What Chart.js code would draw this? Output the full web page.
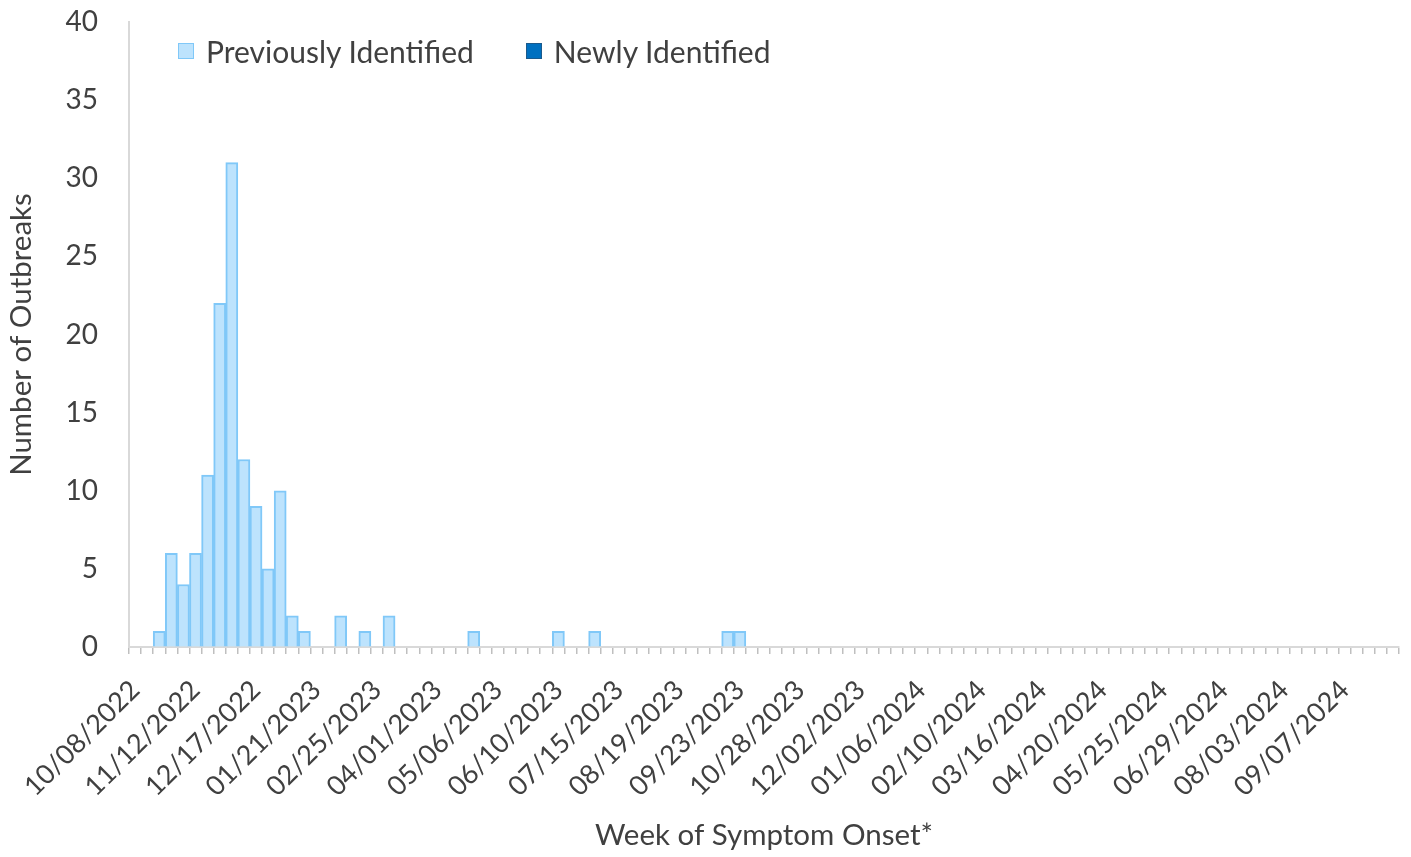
<!DOCTYPE html>
<html>
<head>
<meta charset="utf-8">
<script src="https://cdn.jsdelivr.net/npm/chart.js@4.4.0/dist/chart.umd.min.js"></script>
<style>
  html, body { margin: 0; padding: 0; background: #fff; }
  #wrap { position: relative; width: 1411px; height: 857px; }
  #legend { position: absolute; left: 178px; top: 33px; display: flex; font-family: Lato, sans-serif; font-size: 30px; color: #404040; }
  .item { display: flex; align-items: center; margin-right: 52px; }
  .box { width: 16px; height: 16px; margin-right: 12px; box-sizing: border-box; }
</style>
</head>
<body>
<div id="wrap">
  <canvas id="chart" width="1411" height="857"></canvas>
  <div id="legend">
    <div class="item"><span class="box" style="background:#BDE3FD;border:1.5px solid #80C8F8"></span>Previously Identified</div>
    <div class="item"><span class="box" style="background:#0070C0;border:1.5px solid #1B5A8C"></span>Newly Identified</div>
  </div>
</div>
<script>
// weeks of symptom onset (Saturday of each week)
const weeks = [
  '10/08/2022','10/15/2022','10/22/2022','10/29/2022','11/05/2022','11/12/2022','11/19/2022','11/26/2022','12/03/2022','12/10/2022',
  '12/17/2022','12/24/2022','12/31/2022','01/07/2023','01/14/2023','01/21/2023','01/28/2023','02/04/2023','02/11/2023','02/18/2023',
  '02/25/2023','03/04/2023','03/11/2023','03/18/2023','03/25/2023','04/01/2023','04/08/2023','04/15/2023','04/22/2023','04/29/2023',
  '05/06/2023','05/13/2023','05/20/2023','05/27/2023','06/03/2023','06/10/2023','06/17/2023','06/24/2023','07/01/2023','07/08/2023',
  '07/15/2023','07/22/2023','07/29/2023','08/05/2023','08/12/2023','08/19/2023','08/26/2023','09/02/2023','09/09/2023','09/16/2023',
  '09/23/2023','09/30/2023','10/07/2023','10/14/2023','10/21/2023','10/28/2023','11/04/2023','11/11/2023','11/18/2023','11/25/2023',
  '12/02/2023','12/09/2023','12/16/2023','12/23/2023','12/30/2023','01/06/2024','01/13/2024','01/20/2024','01/27/2024','02/03/2024',
  '02/10/2024','02/17/2024','02/24/2024','03/02/2024','03/09/2024','03/16/2024','03/23/2024','03/30/2024','04/06/2024','04/13/2024',
  '04/20/2024','04/27/2024','05/04/2024','05/11/2024','05/18/2024','05/25/2024','06/01/2024','06/08/2024','06/15/2024','06/22/2024',
  '06/29/2024','07/06/2024','07/13/2024','07/20/2024','07/27/2024','08/03/2024','08/10/2024','08/17/2024','08/24/2024','08/31/2024',
  '09/07/2024','09/14/2024','09/21/2024','09/28/2024','10/05/2024'
];

const previouslyIdentified = [
  0, 0, 1, 6, 4, 6, 11, 22, 31, 12,
  9, 5, 10, 2, 1, 0, 0, 2, 0, 1,
  0, 2, 0, 0, 0, 0, 0, 0, 1, 0,
  0, 0, 0, 0, 0, 1, 0, 0, 1, 0,
  0, 0, 0, 0, 0, 0, 0, 0, 0, 1,
  1, 0, 0, 0, 0, 0, 0, 0, 0, 0,
  0, 0, 0, 0, 0, 0, 0, 0, 0, 0,
  0, 0, 0, 0, 0, 0, 0, 0, 0, 0,
  0, 0, 0, 0, 0, 0, 0, 0, 0, 0,
  0, 0, 0, 0, 0, 0, 0, 0, 0, 0,
  0, 0, 0, 0, 0
];

const newlyIdentified = [
  0, 0, 0, 0, 0, 0, 0, 0, 0, 0,
  0, 0, 0, 0, 0, 0, 0, 0, 0, 0,
  0, 0, 0, 0, 0, 0, 0, 0, 0, 0,
  0, 0, 0, 0, 0, 0, 0, 0, 0, 0,
  0, 0, 0, 0, 0, 0, 0, 0, 0, 0,
  0, 0, 0, 0, 0, 0, 0, 0, 0, 0,
  0, 0, 0, 0, 0, 0, 0, 0, 0, 0,
  0, 0, 0, 0, 0, 0, 0, 0, 0, 0,
  0, 0, 0, 0, 0, 0, 0, 0, 0, 0,
  0, 0, 0, 0, 0, 0, 0, 0, 0, 0,
  0, 0, 0, 0, 0
];

const yTicks = [0, 5, 10, 15, 20, 25, 30, 35, 40];

Chart.defaults.font.family = 'Lato, sans-serif';
Chart.defaults.color = '#404040';

const axisLine = '#D9D9D9';
const tickGrey = '#BFBFBF';

new Chart(document.getElementById('chart'), {
  type: 'bar',
  data: {
    labels: weeks,
    datasets: [{
      label: 'Previously Identified',
      data: previouslyIdentified,
      backgroundColor: '#BDE3FD',
      borderColor: '#80C8F8',
      borderWidth: 2,
      barPercentage: 1,
      categoryPercentage: 1
    }, {
      label: 'Newly Identified',
      data: newlyIdentified,
      backgroundColor: '#0070C0',
      borderColor: '#1B5A8C',
      borderWidth: 2,
      barPercentage: 1,
      categoryPercentage: 1
    }]
  },
  options: {
    responsive: false,
    animation: false,
    layout: { padding: { top: 22, right: 12, left: 0, bottom: 0 } },
    plugins: {
      legend: { display: false },
      tooltip: { enabled: false }
    },
    scales: {
      x: {
        stacked: true,
        grid: { offset: true, drawOnChartArea: false, drawTicks: true, tickLength: 7, color: tickGrey, lineWidth: 1.5 },
        border: { color: axisLine, width: 2 },
        ticks: {
          autoSkip: false,
          minRotation: 45,
          maxRotation: 45,
          padding: 20,
          font: { size: 27 },
          callback: (v, i) => (i % 5 === 0 ? weeks[i] : '')
        },
        title: { display: true, text: 'Week of Symptom Onset*', font: { size: 29.5 }, padding: { top: 0, bottom: 4 } },
        afterFit: s => {
          s.height = 210;
          // rotated labels should not squeeze the plot from the sides
          s.paddingLeft = 0;
          s.paddingRight = 0;
        }
      },
      y: {
        stacked: true,
        min: 0,
        max: 40,
        afterBuildTicks: s => { s.ticks = yTicks.map(v => ({ value: v })); },
        grid: { display: true, drawOnChartArea: false, drawTicks: true, tickLength: 29, color: 'rgba(0,0,0,0)' },
        border: { color: axisLine, width: 2 },
        ticks: { padding: 2, font: { size: 28 } },
        title: { display: true, text: 'Number of Outbreaks', font: { size: 29.5 }, padding: { top: 4, bottom: 0 } },
        afterFit: s => { s.width = 129; }
      }
    }
  }
});
</script>
</body>
</html>
